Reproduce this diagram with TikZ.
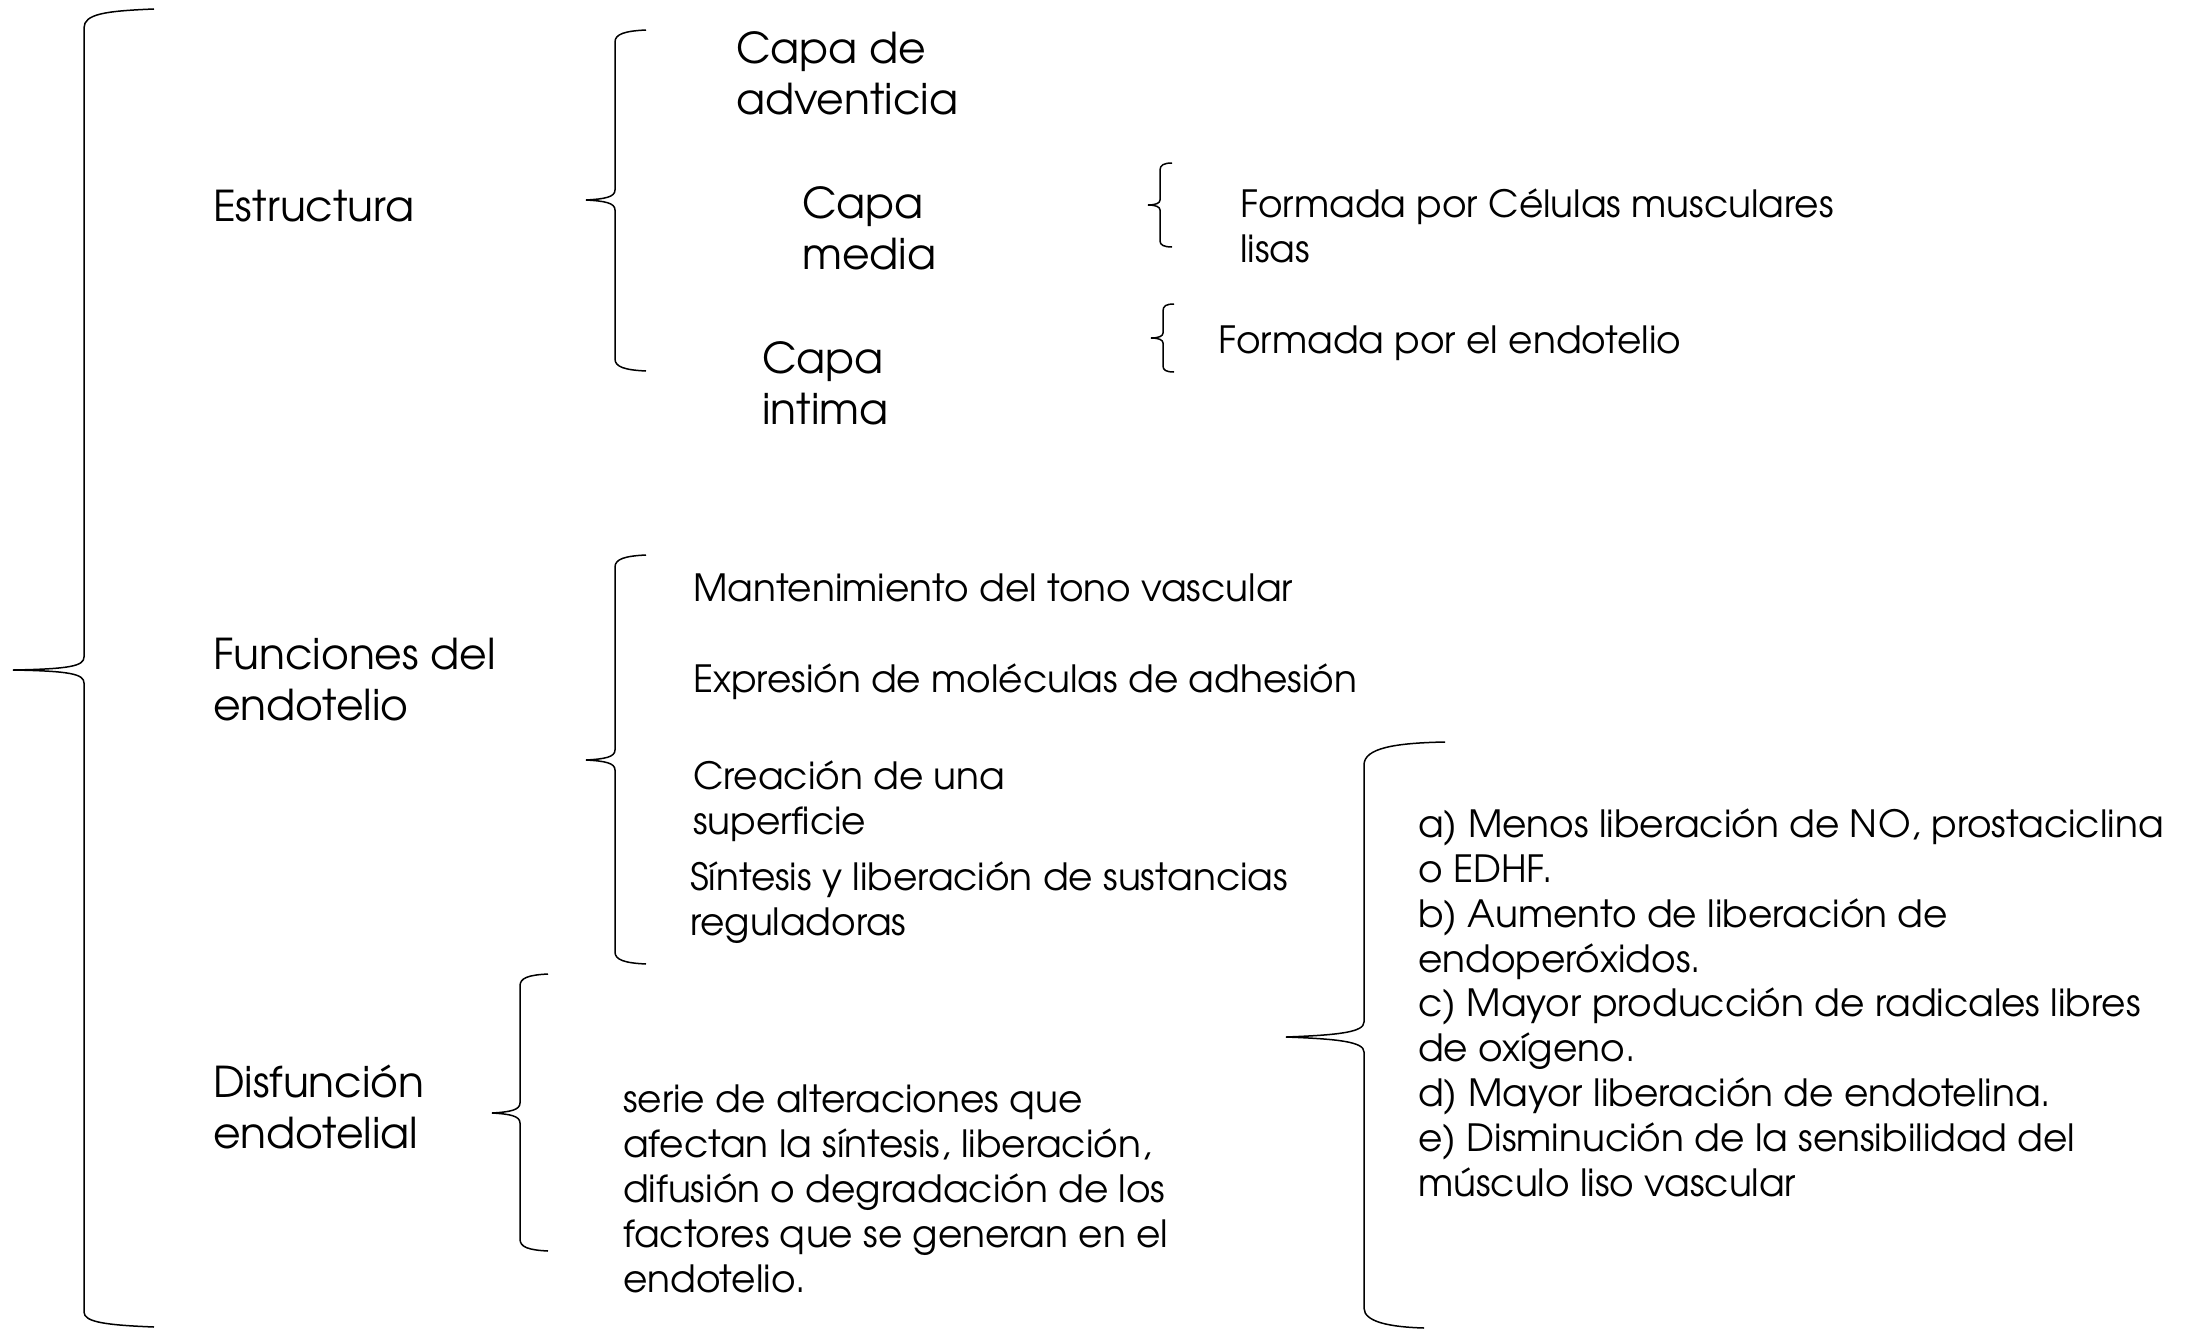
\documentclass[tikz,border=0pt]{standalone}
\usepackage{fontspec}
\setmainfont{TeX Gyre Adventor}
\usepackage{tikz}

\tikzset{
  llave/.style={draw=black, line width=1.5pt},
  texto/.style={anchor=base west, inner sep=0pt, align=left, text=black},
  grande/.style={texto, font=\fontsize{42.5}{51}\selectfont},
  chico/.style={texto, font=\fontsize{37.5}{44.8}\selectfont}
}

\begin{document}
\begin{tikzpicture}[x=1pt,y=1pt,yscale=-1,xscale=1]

    %set diagram left start at 0, and has height of 1330
    \useasboundingbox (0,0) rectangle (2187,1330);

    %Shape: Brace (main)
    \draw[llave] (154,9) .. controls (105,11) and (84,14) .. (84,28) -- (84,657) .. controls (84,666) and (70,669) .. (13,670) .. controls (70,671) and (84,674) .. (84,683) -- (84,1312) .. controls (84,1322) and (105,1325) .. (154,1327) ;
    %Shape: Brace (estructura)
    \draw[llave] (646,30) .. controls (625,31) and (615,34) .. (615,42) -- (615,190) .. controls (615,197) and (605,199) .. (586,200) .. controls (605,201) and (615,203) .. (615,210) -- (615,359) .. controls (615,367) and (625,370) .. (646,371) ;
    %Shape: Brace (funciones)
    \draw[llave] (646,555) .. controls (625,556) and (615,559) .. (615,567) -- (615,750) .. controls (615,757) and (605,759) .. (586,760) .. controls (605,761) and (615,763) .. (615,770) -- (615,952) .. controls (615,960) and (625,963) .. (646,964) ;
    %Shape: Brace (disfuncion)
    \draw[llave] (548,974) .. controls (528,975) and (520,978) .. (520,986) -- (520,1103) .. controls (520,1110) and (510,1112) .. (492,1113) .. controls (510,1114) and (520,1116) .. (520,1123) -- (520,1239) .. controls (520,1247) and (528,1250) .. (548,1251) ;
    %Shape: Brace (alteraciones)
    \draw[llave] (1445,742) .. controls (1395,743) and (1364,748) .. (1364,765) -- (1364,1022) .. controls (1364,1032) and (1340,1035) .. (1286,1037) .. controls (1340,1039) and (1364,1042) .. (1364,1052) -- (1364,1308) .. controls (1364,1322) and (1390,1327) .. (1424,1328) ;
    %Shape: Brace (capa media)
    \draw[llave] (1172,163) .. controls (1164,163) and (1160,165) .. (1160,170) -- (1160,200) .. controls (1160,203) and (1156,205) .. (1148,205) .. controls (1156,205) and (1160,207) .. (1160,210) -- (1160,241) .. controls (1160,245) and (1164,247) .. (1172,247) ;
    %Shape: Brace (capa intima)
    \draw[llave] (1174,304) .. controls (1166,304) and (1163,306) .. (1163,311) -- (1163,333) .. controls (1163,336) and (1159,338) .. (1151,338) .. controls (1159,338) and (1163,340) .. (1163,343) -- (1163,366) .. controls (1163,370) and (1166,372) .. (1174,372) ;

    % Text Node (multi-line nodes sit on the baseline of their last line)
    \node[grande] (estructura) at (213,221) {Estructura};
    % Text Node
    \node[grande] (funciones) at (213,720) {Funciones del\\endotelio};
    % Text Node
    \node[grande] (disfuncion) at (213,1148) {Disfunción\\endotelial};
    % Text Node
    \node[grande] (adventicia) at (736,114) {Capa de\\adventicia};
    % Text Node
    \node[grande] (media) at (802,269) {Capa\\media};
    % Text Node
    \node[grande] (intima) at (762,424) {Capa\\intima};
    % Text Node
    \node[chico] (musculares) at (1240,262) {Formada por Células musculares\\lisas};
    % Text Node
    \node[chico] (endotelio) at (1218,353) {Formada por el endotelio};
    % Text Node
    \node[chico] (tono) at (693,601) {Mantenimiento del tono vascular};
    % Text Node
    \node[chico] (adhesion) at (693,692) {Expresión de moléculas de adhesión};
    % Text Node
    \node[chico] (superficie) at (693,834) {Creación de una\\superficie};
    % Text Node
    \node[chico] (sintesis) at (690,935) {Síntesis y liberación de sustancias\\reguladoras};
    % Text Node
    \node[chico] (serie) at (623,1292) {serie de alteraciones que\\afectan la síntesis, liberación,\\difusión o degradación de los\\factores que se generan en el\\endotelio.};
    % Text Node
    \node[chico] (alteraciones) at (1418,1196) {a) Menos liberación de NO, prostaciclina\\o EDHF.\\b) Aumento de liberación de\\endoperóxidos.\\c) Mayor producción de radicales libres\\de oxígeno.\\d) Mayor liberación de endotelina.\\e) Disminución de la sensibilidad del\\músculo liso vascular};

\end{tikzpicture}
\end{document}
